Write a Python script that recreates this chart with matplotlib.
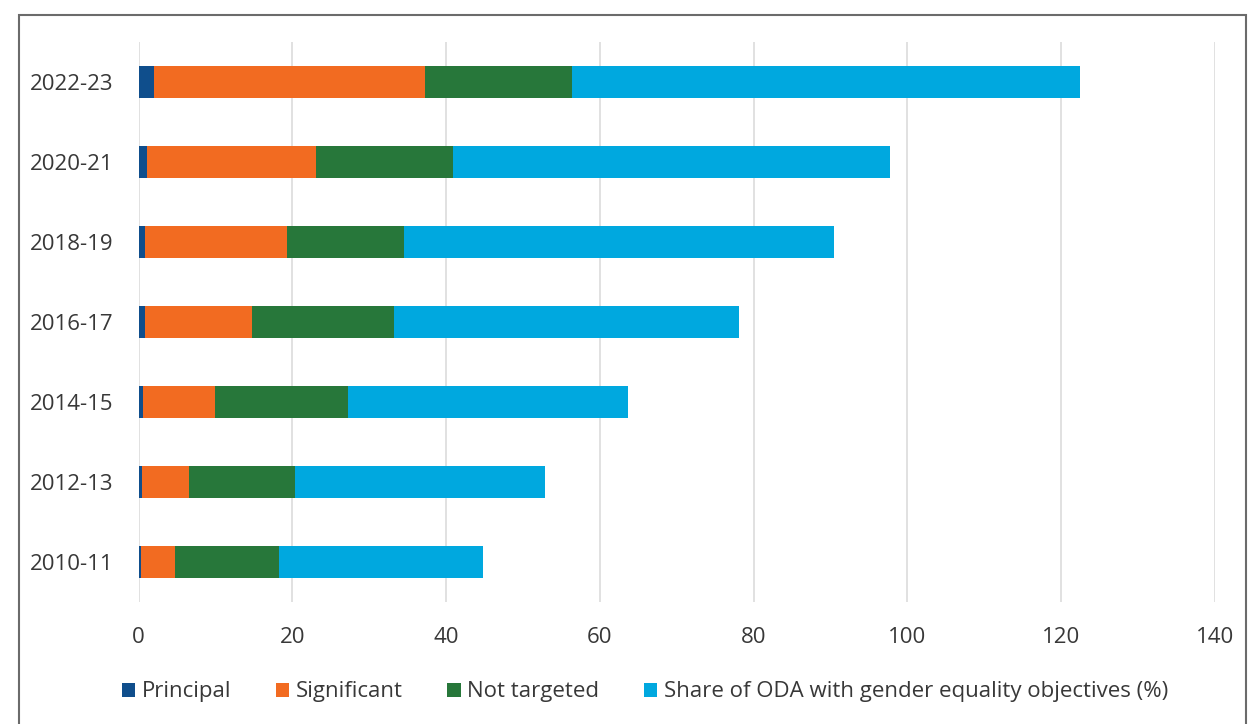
import matplotlib
matplotlib.use("Agg")
import matplotlib.pyplot as plt
from matplotlib.patches import Rectangle

periods = ["2010-11", "2012-13", "2014-15", "2016-17", "2018-19", "2020-21", "2022-23"]
principal = [0.3, 0.45, 0.55, 0.8, 0.8, 1.15, 2.0]
significant = [4.45, 6.15, 9.35, 14.0, 18.45, 21.9, 35.2]
not_targeted = [13.55, 13.7, 17.35, 18.4, 15.25, 17.85, 19.2]
share = [26.5, 32.6, 36.45, 44.9, 55.95, 56.8, 66.0]
series_names = ["Principal", "Significant", "Not targeted",
                "Share of ODA with gender equality objectives (%)"]
colors = ["#0F4E8C", "#F26B21", "#27773A", "#00A8DF"]
x_ticks = [0, 20, 40, 60, 80, 100, 120, 140]

plt.rcParams['font.family'] = ['Open Sans', 'DejaVu Sans']
W, H = 1248, 724
fig = plt.figure(figsize=(W / 100, H / 100), dpi=100)

# frame
fig.patches.append(Rectangle((19 / W, -0.05), (1246 - 19) / W, (H - 15) / H + 0.05,
                             transform=fig.transFigure, fill=False,
                             edgecolor="#6b6b6b", linewidth=1.5))

left, right, top, bottom = 138.5, 1215, 42, 602
ax = fig.add_axes([left / W, 1 - bottom / H, (right - left) / W, (bottom - top) / H])

ypos = list(range(len(periods)))
lefts = [0.0] * len(periods)
for vals, name, col in zip([principal, significant, not_targeted, share], series_names, colors):
    ax.barh(ypos, vals, left=lefts, height=0.41, color=col, label=name, zorder=3)
    lefts = [a + b for a, b in zip(lefts, vals)]

ax.set_xlim(0, 140)
ax.set_ylim(-0.5, len(periods) - 0.5)
ax.set_xticks(x_ticks)
ax.set_yticks(ypos)
ax.set_yticklabels(periods)
ax.grid(axis="x", color="#dcdcdc", linewidth=1.2, zorder=0)
for s in ax.spines.values():
    s.set_visible(False)
ax.tick_params(axis="both", length=0, labelsize=16, colors="#383838")
ax.tick_params(axis="y", pad=18)
ax.tick_params(axis="x", pad=18)

handles, labels = ax.get_legend_handles_labels()
fig.legend(handles, labels, loc="center", bbox_to_anchor=(645 / W, 1 - 692 / H),
           ncol=4, frameon=False, fontsize=16, handlelength=0.6, handleheight=0.6,
           handletextpad=0.3, columnspacing=2.0, labelcolor="#383838")

fig.savefig("out.png", dpi=100)
